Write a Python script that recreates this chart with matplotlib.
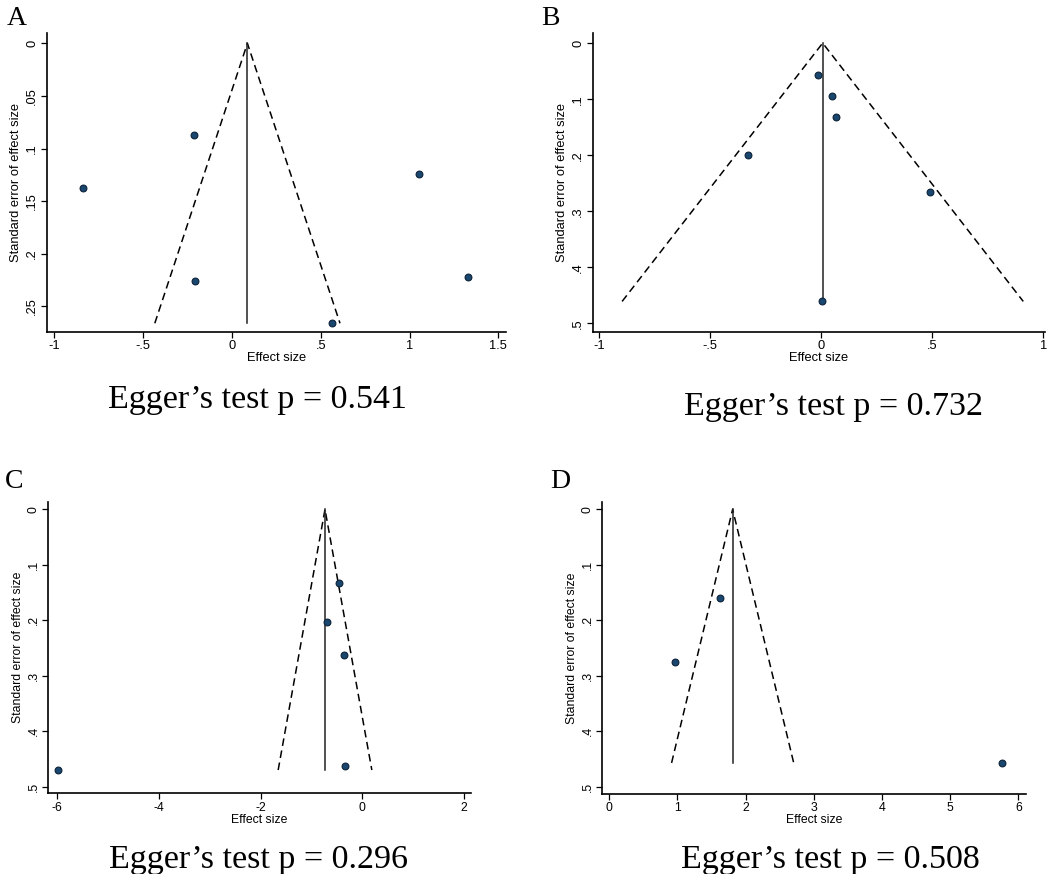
import matplotlib
matplotlib.use("Agg")
import matplotlib.pyplot as plt
from matplotlib.ticker import FuncFormatter

# effect sizes and standard errors
a_effect = [-0.212, -0.84, -0.206, 1.052, 1.328, 0.565]
a_se = [0.087, 0.137, 0.226, 0.124, 0.222, 0.266]
a_pooled = 0.087

b_effect = [-0.017, 0.047, 0.065, -0.332, 0.491, 0.003]
b_se = [0.057, 0.095, 0.131, 0.199, 0.265, 0.461]
b_pooled = 0.006

c_effect = [-5.99, -0.452, -0.695, -0.354, -0.334]
c_se = [0.470, 0.132, 0.204, 0.263, 0.463]
c_pooled = -0.734

d_effect = [1.623, 0.958, 5.756]
d_se = [0.160, 0.275, 0.457]
d_pooled = 1.809

a_xticks = [-1, -0.5, 0, 0.5, 1, 1.5]
a_yticks = [0, 0.05, 0.1, 0.15, 0.2, 0.25]
b_xticks = [-1, -0.5, 0, 0.5, 1]
c_xticks = [-6, -4, -2, 0, 2]
d_xticks = [0, 1, 2, 3, 4, 5, 6]
se_ticks = [0, 0.1, 0.2, 0.3, 0.4, 0.5]

egger_p = ["0.541", "0.732", "0.296", "0.508"]
panel_names = ["A", "B", "C", "D"]

W, H = 1053, 874
fig = plt.figure(figsize=(W / 100, H / 100), dpi=100)


def px_axes(left, right, top, bottom):
    return fig.add_axes([left / W, 1 - bottom / H, (right - left) / W, (bottom - top) / H])


def stata_fmt(v, pos):
    s = f"{v:g}"
    if s.startswith("0.") or s.startswith("-0."):
        s = s.replace("0.", ".", 1)
    return s


def funnel(ax, eff, se, pooled, xticks, yticks, xlim, ylim, fs):
    top = max(se)
    # pseudo 95% limits and pooled estimate
    ax.plot([pooled - 1.96 * top, pooled, pooled + 1.96 * top], [top, 0, top],
            color="black", lw=1.1, dashes=(5, 3))
    ax.plot([pooled, pooled], [0, top], color="#222222", lw=1.1)
    ax.scatter(eff, se, s=24, color="#1a476f", edgecolors="#0c2238", linewidths=0.8, zorder=3)
    ax.set_xlim(xlim)
    ax.set_ylim(ylim[1], ylim[0])
    ax.set_xticks(xticks)
    ax.set_yticks(yticks)
    ax.xaxis.set_major_formatter(FuncFormatter(stata_fmt))
    ax.yaxis.set_major_formatter(FuncFormatter(stata_fmt))
    for side in ["top", "right"]:
        ax.spines[side].set_visible(False)
    for side in ["left", "bottom"]:
        ax.spines[side].set_linewidth(1.2)
    ax.tick_params(direction="out", length=4, width=0.9, labelsize=fs, pad=2)
    for lab in ax.get_yticklabels():
        lab.set_rotation(90)
        lab.set_va("center")
    ax.set_xlabel("Effect size", fontsize=fs, labelpad=0)
    ax.set_ylabel("Standard error of effect size", fontsize=fs, labelpad=3)


plt.rcParams["font.family"] = ["Liberation Sans", "DejaVu Sans"]

ax_a = px_axes(46.7, 506, 33, 331.7)
funnel(ax_a, a_effect, a_se, a_pooled, a_xticks, a_yticks, (-1.043, 1.543), (-0.0098, 0.274), 9.3)

ax_b = px_axes(592.7, 1045, 33, 331.7)
funnel(ax_b, b_effect, b_se, b_pooled, b_xticks, se_ticks, (-1.03, 1.0075), (-0.018, 0.515), 9.3)

ax_c = px_axes(48.3, 471, 501.7, 793.3)
funnel(ax_c, c_effect, c_se, c_pooled, c_xticks, se_ticks, (-6.177, 2.138), (-0.0138, 0.512), 8.8)

ax_d = px_axes(602.3, 1025.7, 502.3, 794)
funnel(ax_d, d_effect, d_se, d_pooled, d_xticks, se_ticks, (-0.103, 6.108), (-0.0126, 0.513), 8.8)

serif = ["Liberation Serif", "DejaVu Serif"]
label_pos = [(6.5, 25), (541.5, 25), (5, 488), (550, 488)]
for name, (x, y) in zip(panel_names, label_pos):
    fig.text(x / W, 1 - y / H, name, family=serif, fontsize=20, ha="left", va="baseline")

egger_pos = [(257.5, 408.3), (833, 415), (258.5, 867.7), (830, 867.7)]
for p, (x, y) in zip(egger_p, egger_pos):
    fig.text(x / W, 1 - y / H, "Egger\u2019s test p = " + p, family=serif, fontsize=24.5,
             ha="center", va="baseline")

fig.savefig("out.png", dpi=100, facecolor="white")
